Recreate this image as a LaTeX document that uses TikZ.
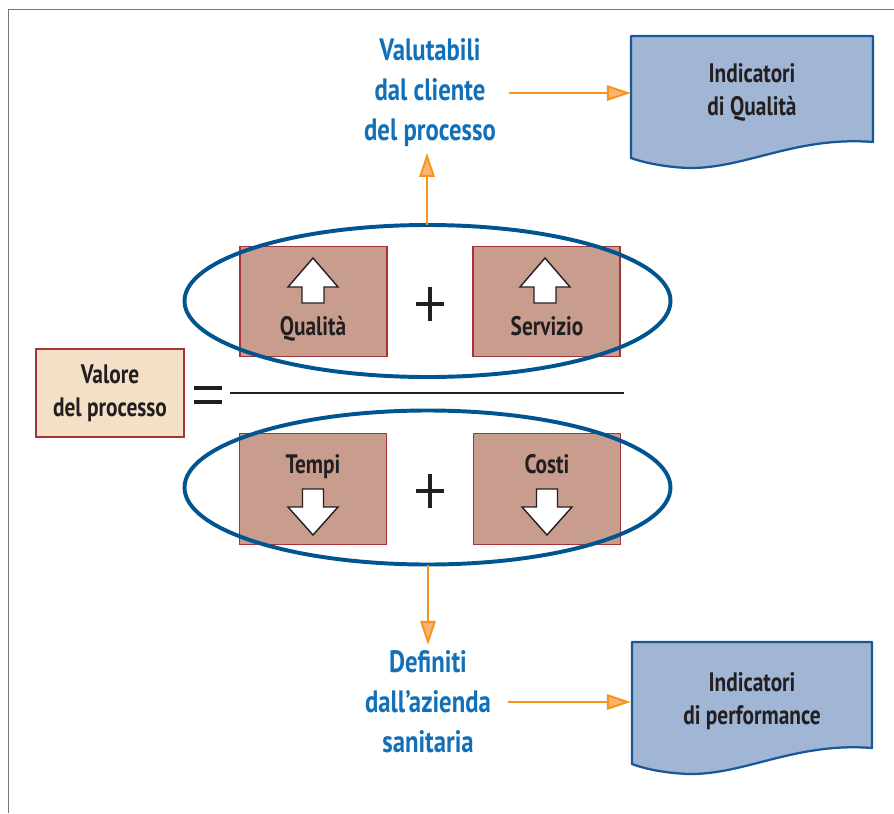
\documentclass[tikz,border=0pt]{standalone}
\usepackage{fontspec}
\setmainfont{PT Sans}[FakeStretch=0.8]
\usetikzlibrary{arrows.meta}
\definecolor{boxfill}{RGB}{201,157,142}
\definecolor{boxline}{RGB}{163,52,58}
\definecolor{valfill}{RGB}{243,224,198}
\definecolor{docfill}{RGB}{161,181,212}
\definecolor{docline}{RGB}{24,88,150}
\definecolor{ringblue}{RGB}{0,84,143}
\definecolor{textblue}{RGB}{18,112,185}
\definecolor{flowline}{RGB}{247,148,29}
\definecolor{flowfill}{RGB}{251,180,110}
\definecolor{ink}{RGB}{35,31,32}
\definecolor{framegrey}{RGB}{120,120,120}
\begin{document}
\begin{tikzpicture}[scale=0.25,
		blacktext/.style={font=\fontsize{19}{23.5}\selectfont\bfseries, text=ink, align=center},
		bluetext/.style={font=\fontsize{22}{28.5}\selectfont\bfseries, text=textblue, align=center, inner sep=4pt},
		termbox/.style={draw=boxline, line width=0.9pt, fill=boxfill, minimum width=3.68cm, minimum height=2.76cm},
		valbox/.style={blacktext, draw=boxline, line width=0.9pt, fill=valfill, minimum width=3.7cm, minimum height=2.2cm},
		doctext/.style={blacktext, minimum width=6.05cm},
		docshape/.style={draw=docline, line width=1.6pt, fill=docfill, line join=round},
		ring/.style={draw=ringblue, line width=2.8pt},
		flow/.style={draw=flowline, line width=1.4pt, -{Triangle[length=17pt,width=11pt,fill=flowfill]}},
		hollow/.style={draw=ink, fill=white, line width=1pt},
		eqbar/.style={draw=ink, line width=2.2pt}]
		\tikzstyle{every node}+=[inner sep=0pt]
		\useasboundingbox (0,0) rectangle (89.4,-81.3);
		\draw [framegrey, line width=0.7pt] (0.8,-81.3) -- (0.8,-0.9) -- (89.4,-0.9);
		% value of the process
		\node [valbox] (valore) at (11.0,-39.3) {Valore\\del processo};
		\draw [eqbar] (19.4,-38.8) -- (22.2,-38.8) (19.4,-40.2) -- (22.2,-40.2);
		\draw [ink, line width=1.4pt] (23.0,-39.3) -- (62.4,-39.3);
		% numerator
		\node [termbox] (qualbox) at (31.35,-30.15) {};
		\node [termbox] (servbox) at (54.65,-30.15) {};
		\node [blacktext, anchor=base] (quallbl) at (31.3,-33.5) {Qualità};
		\node [blacktext, anchor=base] (servlbl) at (54.7,-33.5) {Servizio};
		\foreach \ax in {31.3,54.5}
			\draw [hollow] (\ax,-25.8) -- ++(2.5,-2.9) -- ++(-1.4,0) -- ++(0,-1.6) -- ++(-2.2,0) -- ++(0,1.6) -- ++(-1.4,0) -- cycle;
		\draw [eqbar] (43.0,-28.7) -- (43.0,-32.1) (41.6,-30.4) -- (44.4,-30.4);
		\draw [ring] (42.75,-30.1) ellipse (24.3 and 7.6);
		\coordinate (ringtop) at (42.7,-22.5);
		% denominator
		\node [termbox] (tempbox) at (31.3,-48.9) {};
		\node [termbox] (costbox) at (54.7,-48.9) {};
		\node [blacktext, anchor=base] (templbl) at (31.3,-47.3) {Tempi};
		\node [blacktext, anchor=base] (costlbl) at (54.7,-47.3) {Costi};
		\foreach \ax in {31.3,54.7}
			\draw [hollow] (\ax,-53.5) -- ++(2.5,2.8) -- ++(-1.45,0) -- ++(0,1.8) -- ++(-2.1,0) -- ++(0,-1.8) -- ++(-1.45,0) -- cycle;
		\draw [eqbar] (43.0,-47.4) -- (43.0,-50.8) (41.6,-49.1) -- (44.4,-49.1);
		\draw [ring] (42.75,-48.75) ellipse (24.3 and 7.7);
		\coordinate (ringbot) at (42.8,-56.45);
		% indicators
		\draw [docshape] (63.1,-3.6) -- (87.3,-3.6) -- (87.3,-14.2) .. controls (79.5,-13.6) and (74.5,-16.9) .. (68.8,-16.8) .. controls (66.5,-16.7) and (64.5,-16.3) .. (63.1,-15.8) -- cycle;
		\node [doctext] (qualdoc) at (75.2,-9.2) {Indicatori\\di Qualità};
		\draw [docshape] (63.2,-64.2) -- (87.2,-64.2) -- (87.2,-74.8) .. controls (79.5,-74.2) and (74.5,-77.5) .. (68.8,-77.4) .. controls (66.5,-77.3) and (64.5,-76.9) .. (63.2,-76.4) -- cycle;
		\node [doctext] (perfdoc) at (75.2,-70.1) {Indicatori\\di performance};
		\node [bluetext] (valut) at (43.0,-9.3) {Valutabili\\dal cliente\\del processo};
		\node [bluetext] (defin) at (42.8,-70.2) {Definiti\\dall’azienda\\sanitaria};
		\draw [flow] (ringtop) -- (ringtop |- valut.south);
		\draw [flow] (ringbot) -- (ringbot |- defin.north);
		\draw [flow, shorten <=5pt] (valut.east) -- (valut.east -| qualdoc.west);
		\draw [flow, shorten <=8pt] (defin.east) -- (defin.east -| perfdoc.west);
\end{tikzpicture}
\end{document}
